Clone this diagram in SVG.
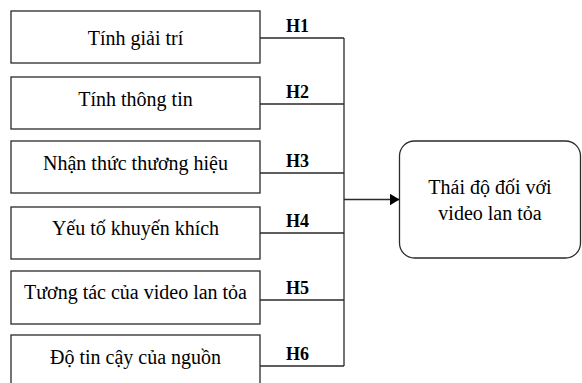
<svg xmlns="http://www.w3.org/2000/svg" width="582" height="383" viewBox="0 0 582 383">
<style>
.box{fill:#fff;stroke:#2a2a2a;stroke-width:1.3}
.t{font-family:'Liberation Serif','Times New Roman',Times,serif;font-size:20px;fill:#000;text-anchor:middle}
.h{font-family:'Liberation Serif','Times New Roman',Times,serif;font-size:18px;font-weight:bold;fill:#000;text-anchor:middle}
.ln{fill:none;stroke:#2a2a2a;stroke-width:1.3}
</style>
<defs>
<marker id="arr" markerWidth="10" markerHeight="12" refX="10" refY="6" orient="auto" markerUnits="userSpaceOnUse">
<path d="M0,0 L10,6 L0,12 Z" fill="#000"/>
</marker>
</defs>
<rect width="582" height="383" fill="#fff"/>
<g id="n1"><rect class="box" x="11" y="11" width="249" height="52"/><text class="t" x="135.5" y="45">Tính giải trí</text></g>
<g id="n2"><rect class="box" x="11" y="77" width="249" height="52"/><text class="t" x="135.5" y="106">Tính thông tin</text></g>
<g id="n3"><rect class="box" x="11" y="141" width="249" height="52"/><text class="t" x="135.5" y="169.5">Nhận thức thương hiệu</text></g>
<g id="n4"><rect class="box" x="11" y="207" width="249" height="52"/><text class="t" x="135.5" y="234.5">Yếu tố khuyến khích</text></g>
<g id="n5"><rect class="box" x="11" y="271" width="249" height="53"/><text class="t" x="135.5" y="299">Tương tác của video lan tỏa</text></g>
<g id="n6"><rect class="box" x="11" y="335" width="249" height="60"/><text class="t" x="135.5" y="363.5">Độ tin cậy của nguồn</text></g>
<g id="target"><rect class="box" x="399.5" y="141" width="181" height="117" rx="15" ry="15"/><text class="t" x="490" y="194">Thái độ đối với</text><text class="t" x="490" y="220">video lan tỏa</text></g>
<g id="connectors">
<path class="ln" d="M260,38 H344 M260,104 H344 M260,173 H344 M260,233 H344 M260,300 H344 M260,366 H344 M344,38 V366"/>
<line class="ln" x1="344" y1="199.5" x2="399.5" y2="199.5" marker-end="url(#arr)"/>
<text class="h" x="297.5" y="31.5">H1</text>
<text class="h" x="297.5" y="97.5">H2</text>
<text class="h" x="297.5" y="166.5">H3</text>
<text class="h" x="297.5" y="226.5">H4</text>
<text class="h" x="297.5" y="293.5">H5</text>
<text class="h" x="297.5" y="359.5">H6</text>
</g>
</svg>
